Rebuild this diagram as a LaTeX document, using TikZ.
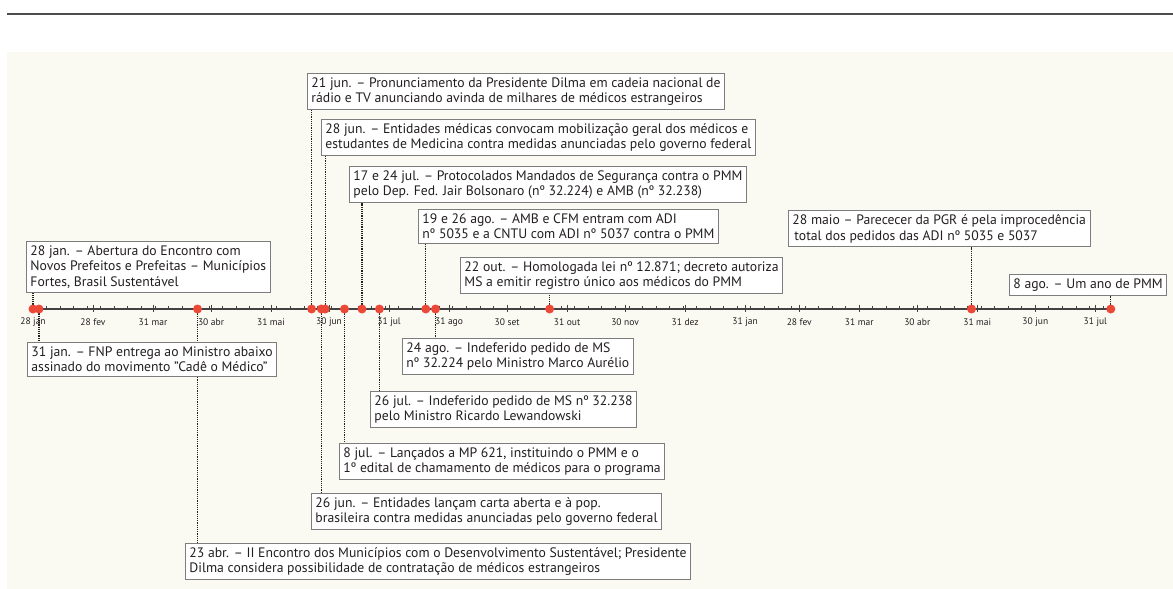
\documentclass[tikz,border=0pt]{standalone}
\usepackage{fontspec}
\setmainfont{PT Sans}
\usetikzlibrary{positioning, backgrounds}

\definecolor{paper}{RGB}{250,250,243}
\definecolor{evred}{RGB}{236,72,56}
\definecolor{boxgray}{RGB}{125,125,125}
\definecolor{ink}{RGB}{35,31,32}

\begin{document}
\begin{tikzpicture}[
    x=1pt, y=-1pt,
    evbox/.style={rectangle, draw=boxgray, fill=white, line width=0.9pt, anchor=north west,
        align=left, inner sep=4pt, text=ink, font=\fontsize{13.7}{15.6}\selectfont},
    evdot/.style={circle, fill=evred, inner sep=0pt, minimum size=9pt},
    link/.style={densely dotted, line width=1.2pt, ink},
    tickmark/.style={line width=0.8pt, ink!85},
    monthlbl/.style={font=\fontsize{9.5}{11}\selectfont, text=ink, inner sep=0pt},
    ]

    \useasboundingbox (0,0) rectangle (1173,589);

    \begin{scope}[on background layer]
        \fill[paper] (7,52) rectangle (1173,589);
        \draw[line width=1.4pt, black!70] (7,14) -- (1173,14);
    \end{scope}

    % axis
    \draw[line width=1.5pt, ink!85] (30,309) -- (1111,309);
    \foreach \w in {0,...,79}
        \draw[tickmark] ({33+1.935*7*\w},305.5) -- ++(0,4.5);
    \foreach \d/\lbl in {0/28 jan, 31/28 fev, 62/31 mar, 92/30 abr, 123/31 mai, 153/30 jun,
            184/31 jul, 215/31 ago, 245/30 set, 276/31 out, 306/30 nov, 337/31 dez,
            368/31 jan, 396/28 fev, 427/31 mar, 457/30 abr, 488/31 mai, 518/30 jun, 549/31 jul} {
        \draw[tickmark] ({33+1.935*\d},304.5) -- ++(0,7.5);
        \node[monthlbl] at ({33+1.935*\d},322) {\lbl};
    }

    % events on the axis
    \node[evdot] (d28jan) at (33,309) {};
    \node[evdot] (d31jan) at (39,309) {};
    \node[evdot] (d23abr) at (197.5,309) {};
    \node[evdot] (d21jun) at (311.6,309) {};
    \node[evdot] (d26jun) at (321.3,309) {};
    \node[evdot] (d28jun) at (325.2,309) {};
    \node[evdot] (d8jul) at (344.5,309) {};
    \node[evdot] (d17jul) at (362,309) {};
    \node[evdot] (d26jul) at (379.4,309) {};
    \node[evdot] (d19ago) at (425.8,309) {};
    \node[evdot] (d24ago) at (435.5,309) {};
    \node[evdot] (d22out) at (549.6,309) {};
    \node[evdot] (d28mai) at (971.5,309) {};
    \node[evdot] (d8ago) at (1110.8,309) {};

    % boxes above the axis
    \node[evbox] (b28jan) at (26,241) {28 jan. – Abertura do Encontro com\\Novos Prefeitos e Prefeitas – Municípios\\Fortes, Brasil Sustentável};
    \node[evbox] (b21jun) at (307,73) {21 jun. – Pronunciamento da Presidente Dilma em cadeia nacional de\\rádio e TV anunciando avinda de milhares de médicos estrangeiros};
    \node[evbox] (b28jun) at (321,119) {28 jun. – Entidades médicas convocam mobilização geral dos médicos e\\estudantes de Medicina contra medidas anunciadas pelo governo federal};
    \node[evbox] (b17jul) at (349,166) {17 e 24 jul. – Protocolados Mandados de Segurança contra o PMM\\pelo Dep. Fed. Jair Bolsonaro (nº 32.224) e AMB (nº 32.238)};
    \node[evbox] (b19ago) at (418,209) {19 e 26 ago. – AMB e CFM entram com ADI\\nº 5035 e a CNTU com ADI nº 5037 contra o PMM};
    \node[evbox] (b22out) at (460,257) {22 out. – Homologada lei nº 12.871; decreto autoriza\\MS a emitir registro único aos médicos do PMM};
    \node[evbox] (b28mai) at (788,210) {28 maio – Parececer da PGR é pela improcedência\\\kern2pt total dos pedidos das ADI nº 5035 e 5037};
    \node[evbox] (b8ago) at (1009,274) {8 ago. – Um ano de PMM};

    % boxes below the axis
    \node[evbox] (b31jan) at (27,342) {31 jan. – FNP entrega ao Ministro abaixo\\assinado do movimento "Cadê o Médico"};
    \node[evbox] (b24ago) at (402,338) {24 ago. – Indeferido pedido de MS\\nº 32.224 pelo Ministro Marco Aurélio};
    \node[evbox] (b26jul) at (370,391) {26 jul. – Indeferido pedido de MS nº 32.238\\pelo Ministro Ricardo Lewandowski};
    \node[evbox] (b8jul) at (339,443) {8 jul. – Lançados a MP 621, instituindo o PMM e o\\1º edital de chamamento de médicos para o programa};
    \node[evbox] (b26jun) at (311,493) {26 jun. – Entidades lançam carta aberta e à pop.\\brasileira contra medidas anunciadas pelo governo federal};
    \node[evbox] (b23abr) at (185,543) {23 abr. – II Encontro dos Municípios com o Desenvolvimento Sustentável; Presidente\\Dilma considera possibilidade de contratação de médicos estrangeiros};

    % dotted leaders
    \begin{scope}[on background layer]
        \foreach \ev in {28jan, 21jun, 28jun, 17jul, 19ago, 22out, 28mai, 8ago}
            \draw[link] (d\ev.center) -- (b\ev.south -| d\ev.center);
        \foreach \ev in {31jan, 24ago, 26jul, 8jul, 26jun, 23abr}
            \draw[link] (d\ev.center) -- (b\ev.north -| d\ev.center);
    \end{scope}

\end{tikzpicture}
\end{document}
